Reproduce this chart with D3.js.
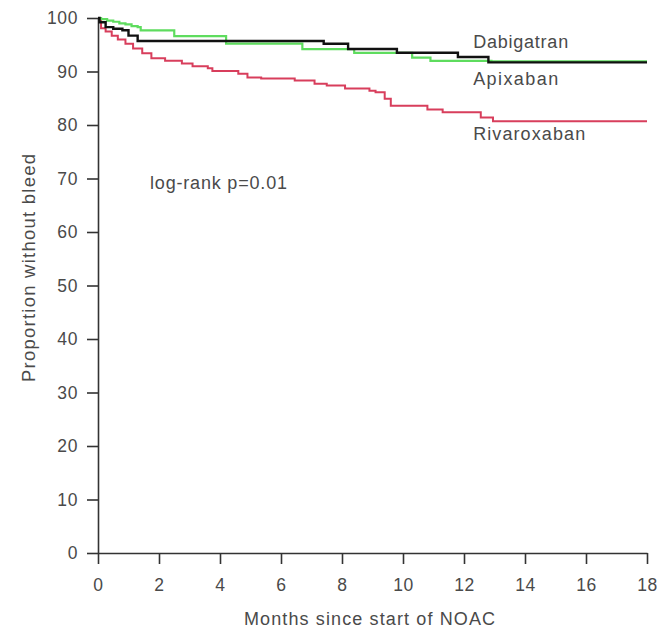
<!DOCTYPE html>
<html>
<head>
<meta charset="utf-8">
<script src="https://cdn.jsdelivr.net/npm/d3@7"></script>
<style>
  html, body { margin: 0; padding: 0; background: #fff; }
  svg { display: block; }
  text { font-family: "Liberation Sans", Arial, sans-serif; fill: #4a4a4a; }
</style>
</head>
<body>
<svg id="chart" width="657" height="634"></svg>
<script>
// Kaplan-Meier estimates: time in months, proportion without bleed (%)
const dabigatranTime = [0, 0.05, 0.25, 0.5, 0.8, 1.0, 1.3, 7.4, 8.2, 9.8, 11.8, 12.8, 18];
const dabigatranSurv = [100, 99.2, 98.3, 98.0, 97.7, 96.7, 95.7, 95.2, 94.2, 93.5, 92.7, 91.7, 91.7];

const apixabanTime = [0, 0.1, 0.3, 0.5, 0.7, 0.9, 1.1, 1.3, 1.4, 2.5, 4.2, 6.7, 8.4, 10.3, 10.9, 12.9, 18];
const apixabanSurv = [100, 99.8, 99.5, 99.3, 99.0, 98.8, 98.5, 98.3, 97.7, 96.6, 95.2, 94.2, 93.5, 92.6, 92.0, 91.9, 91.9];

const rivaroxabanTime = [0, 0.1, 0.25, 0.45, 0.65, 0.9, 1.15, 1.45, 1.75, 2.2, 2.75, 3.1, 3.6, 3.75, 4.6, 4.9, 5.35, 6.45, 7.1, 7.5, 8.1, 8.9, 9.1, 9.4, 9.6, 10.8, 11.3, 12.55, 12.95, 18];
const rivaroxabanSurv = [100, 98.1, 97.5, 96.7, 96.0, 95.2, 94.3, 93.4, 92.5, 92.0, 91.5, 91.0, 90.6, 90.1, 89.6, 88.9, 88.7, 88.3, 87.7, 87.4, 86.8, 86.4, 86.1, 84.9, 83.6, 82.9, 82.4, 81.4, 80.7, 80.7];

const seriesNames = ["Rivaroxaban", "Apixaban", "Dabigatran"];
const seriesColors = ["#d83e5c", "#5edc5e", "#111111"];
// vertical position of each curve label, on the y scale
const labelValues = [77.2, 87.4, 94.3];
const labelLengths = [112, 85, 95];

const xTicks = [0, 2, 4, 6, 8, 10, 12, 14, 16, 18];
const yTicks = [0, 10, 20, 30, 40, 50, 60, 70, 80, 90, 100];

const svg = d3.select("#chart");
const W = 657, H = 634;
const margin = { left: 98, right: 10, top: 18, bottom: 81 };

const x = d3.scaleLinear().domain([0, 18]).range([margin.left, W - margin.right]);
const y = d3.scaleLinear().domain([0, 100]).range([H - margin.bottom, margin.top]);

// axes
const xAxis = svg.append("g")
  .attr("transform", `translate(0,${y(0)})`)
  .call(d3.axisBottom(x).tickValues(xTicks).tickSize(11).tickPadding(15).tickSizeOuter(0));
const yAxis = svg.append("g")
  .attr("transform", `translate(${x(0)},0)`)
  .call(d3.axisLeft(y).tickValues(yTicks).tickSize(11).tickPadding(9).tickSizeOuter(0));

[xAxis, yAxis].forEach(g => {
  g.selectAll(".domain").attr("stroke", "#333").attr("stroke-width", 1.6);
  g.selectAll(".tick line").attr("stroke", "#333").attr("stroke-width", 1.6);
  g.selectAll(".tick text").attr("font-size", 17.5).attr("fill", "#505050")
    .attr("letter-spacing", 0.6)
    .attr("font-family", "'Liberation Sans', Arial, sans-serif");
});

// survival curves
const line = d3.line()
  .x(d => x(d[0]))
  .y(d => y(d[1]))
  .curve(d3.curveStepAfter);

const series = [
  d3.zip(rivaroxabanTime, rivaroxabanSurv),
  d3.zip(apixabanTime, apixabanSurv),
  d3.zip(dabigatranTime, dabigatranSurv)
];
const widths = [2, 2.2, 2.4];

series.forEach((pts, i) => {
  svg.append("path")
    .datum(pts)
    .attr("d", line)
    .attr("fill", "none")
    .attr("stroke", seriesColors[i])
    .attr("stroke-width", widths[i]);
});

// curve labels
seriesNames.forEach((name, i) => {
  svg.append("text")
    .attr("x", x(12.3))
    .attr("y", y(labelValues[i]))
    .attr("font-size", 18)
    .attr("textLength", labelLengths[i])
    .attr("lengthAdjust", "spacing")
    .text(name);
});

svg.append("text")
  .attr("x", 150)
  .attr("y", y(68.0))
  .attr("font-size", 18)
  .attr("textLength", 137)
  .attr("lengthAdjust", "spacing")
  .text("log-rank p=0.01");

// axis titles
svg.append("text")
  .attr("x", 244)
  .attr("y", 625)
  .attr("font-size", 18)
  .attr("textLength", 251)
  .attr("lengthAdjust", "spacing")
  .text("Months since start of NOAC");

svg.append("text")
  .attr("transform", "translate(35,382) rotate(-90)")
  .attr("font-size", 18.5)
  .attr("textLength", 228)
  .attr("lengthAdjust", "spacing")
  .text("Proportion without bleed");
</script>
</body>
</html>
